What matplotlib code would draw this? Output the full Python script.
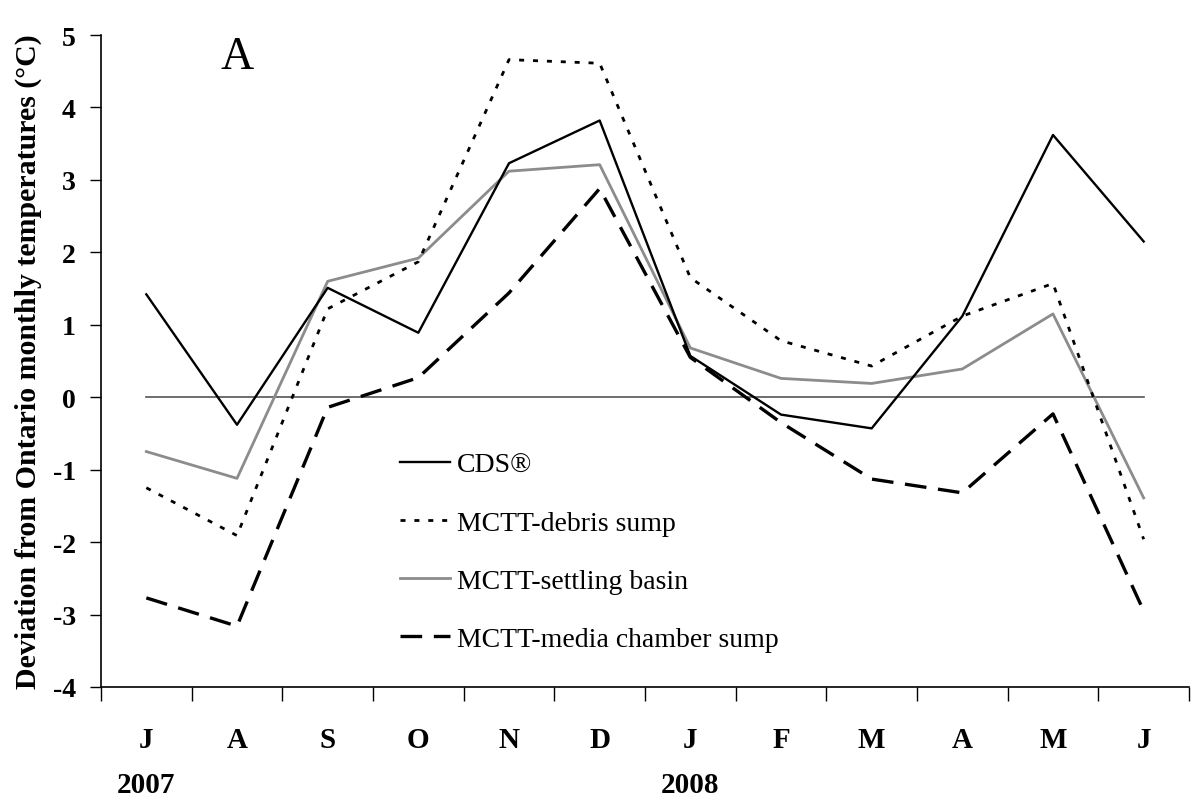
import matplotlib
matplotlib.use("Agg")
import matplotlib.pyplot as plt

months = ["J", "A", "S", "O", "N", "D", "J", "F", "M", "A", "M", "J"]
years = ["2007", "2008"]
year_pos = [0, 6]

cds = [1.42, -0.38, 1.51, 0.89, 3.23, 3.82, 0.57, -0.24, -0.43, 1.12, 3.62, 2.15]
debris = [-1.25, -1.91, 1.22, 1.87, 4.66, 4.61, 1.65, 0.78, 0.43, 1.12, 1.57, -1.96]
settling = [-0.75, -1.12, 1.60, 1.92, 3.12, 3.21, 0.68, 0.26, 0.19, 0.39, 1.15, -1.39]
media = [-2.77, -3.16, -0.14, 0.27, 1.44, 2.88, 0.55, -0.35, -1.13, -1.32, -0.23, -2.95]

labels = ["CDS®", "MCTT-debris sump", "MCTT-settling basin", "MCTT-media chamber sump"]

plt.rcParams['font.family'] = ['Liberation Serif', 'DejaVu Serif']

fig = plt.figure(figsize=(11.91, 8.03), dpi=100)
ax = fig.add_axes([101/1191, 1 - 688/803, 1088/1191, (688 - 36)/803])

x = list(range(len(months)))
ax.plot([x[0], x[-1]], [0, 0], color="#555555", lw=1.2, zorder=1)

ax.plot(x, cds, color="black", lw=1.7, label=labels[0], zorder=3)
ax.plot(x, debris, color="black", lw=2.0, linestyle=(0, (1.8, 3.2)), label=labels[1], zorder=3)
ax.plot(x, settling, color="#8c8c8c", lw=2.0, label=labels[2], zorder=2)
ax.plot(x, media, color="black", lw=2.4, linestyle=(0, (6.5, 3.5)), label=labels[3], zorder=3)

ax.set_xlim(-0.5, 11.5)
ax.set_ylim(-4, 5)
ax.set_yticks(range(-4, 6))
ax.set_yticklabels([str(v) for v in range(-4, 6)], fontweight="bold", fontsize=20)
ax.tick_params(axis="y", direction="out", length=8, width=1, pad=10)

ax.set_xticks(x)
ax.set_xticklabels(months, fontweight="bold", fontsize=21)
ax.tick_params(axis="x", which="major", length=0, pad=28)
ax.set_xticks([v - 0.5 for v in range(len(months) + 1)], minor=True)
ax.tick_params(axis="x", which="minor", direction="out", length=10, width=1)

for yr, pos in zip(years, year_pos):
    ax.text(pos, -5.34, yr, ha="center", va="center", fontweight="bold", fontsize=21)

for s in ["top", "right"]:
    ax.spines[s].set_visible(False)
for s in ["left", "bottom"]:
    ax.spines[s].set_linewidth(1.2)

ax.set_ylabel("Deviation from Ontario monthly temperatures (°C)", fontweight="bold", fontsize=21.5, labelpad=8)

ax.text(1.0, 4.7, "A", fontsize=33, ha="center", va="center")

leg = ax.legend(loc="center left", bbox_to_anchor=(0.0, 0.0),
                frameon=False, fontsize=20, handlelength=1.8, handletextpad=0.25,
                labelspacing=1.18, borderaxespad=0, borderpad=0)
fig.canvas.draw()
# place legend: first row centre at ~y=463 px, handles start at ~x=400 px
bb = leg.get_window_extent()
h = bb.height
top_px = 463 - 10
leg.set_bbox_to_anchor((400 / 1191, 1 - (top_px + h / 2) / 803), transform=fig.transFigure)

fig.savefig("out.png", dpi=100)
